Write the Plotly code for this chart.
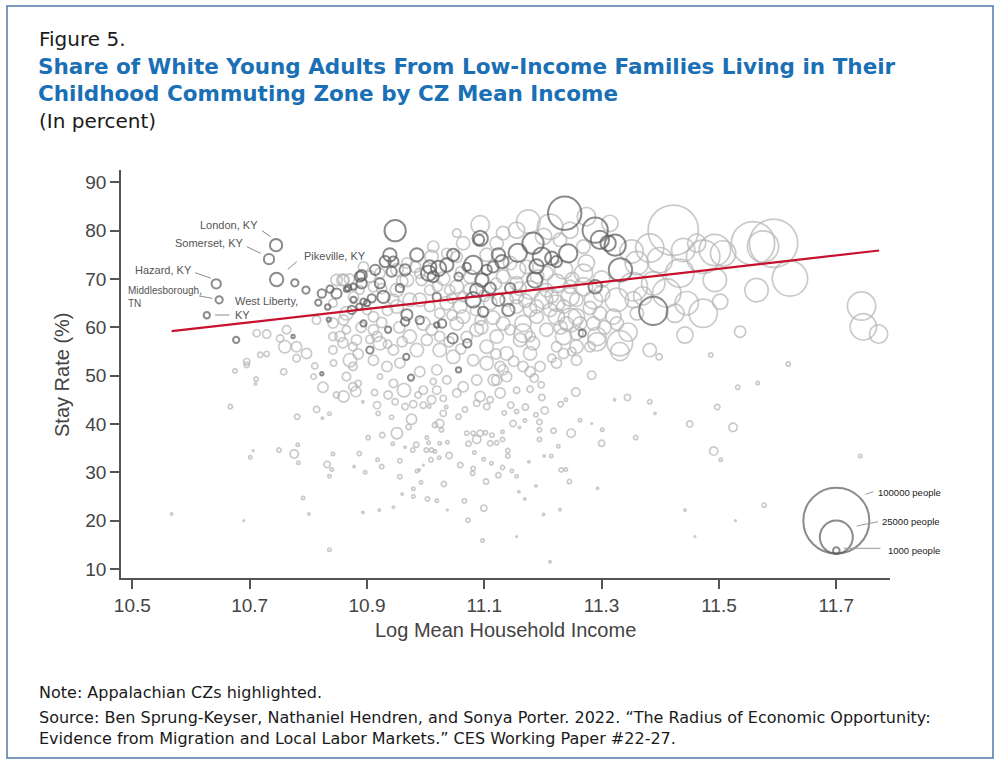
import plotly.graph_objects as go

# Appalachian commuting zones (highlighted): log mean income, stay rate (%), people
dark_x = [
    10.745, 10.733, 10.746, 10.643, 10.648, 10.627, 10.677, 10.777, 10.796, 10.823,
    10.817, 10.837, 10.848, 10.833, 10.835, 10.865, 10.877, 10.888, 10.877, 10.874,
    10.887, 10.774, 10.823, 10.948, 11.237, 11.289, 11.297, 11.311, 11.183, 11.157,
    11.198, 11.243, 11.215, 11.223, 11.189, 11.186, 11.093, 11.091, 11.124, 11.130,
    11.115, 11.104, 11.081, 11.096, 11.087, 11.110, 11.081, 11.124, 11.144, 11.141,
    11.098, 11.047, 11.070, 11.056, 11.036, 11.022, 11.007, 11.005, 11.013, 10.985,
    10.965, 10.939, 10.945, 10.931, 10.914, 10.942, 10.922, 10.891, 10.891, 10.868,
    10.928, 10.956, 10.908, 10.894, 11.019, 10.968, 10.990, 10.965, 11.019, 11.028,
    10.936, 10.894, 11.046, 11.071, 10.905, 10.967, 11.056, 10.975, 11.267, 11.289,
    11.323, 11.332, 11.388, 10.900]
dark_y = [
    77.0, 74.1, 69.9, 69.0, 65.7, 62.5, 57.4, 69.2, 67.7, 67.0,
    65.1, 67.9, 67.0, 64.2, 61.6, 67.9, 68.4, 70.5, 65.7, 63.6,
    64.3, 58.1, 50.4, 80.0, 83.6, 80.1, 78.1, 77.4, 77.4, 75.4,
    74.6, 75.3, 74.3, 73.6, 72.6, 69.8, 78.4, 78.1, 75.0, 73.6,
    72.5, 71.9, 72.9, 69.8, 67.7, 68.1, 65.7, 65.7, 68.1, 63.6,
    63.2, 75.0, 72.5, 70.5, 72.9, 72.2, 72.5, 71.2, 70.5, 75.0,
    71.9, 75.0, 73.6, 73.6, 71.9, 71.5, 69.1, 70.8, 69.1, 68.1,
    66.3, 68.1, 66.0, 65.3, 66.3, 62.6, 61.5, 61.2, 60.5, 60.8,
    59.5, 60.8, 57.7, 56.7, 55.3, 53.9, 51.2, 49.6, 58.8, 68.4,
    77.0, 71.9, 63.4, 65.0]
dark_pop = [
    3500, 2400, 4100, 2000, 1200, 900, 900, 1200, 1200, 1600,
    900, 1200, 2400, 650, 420, 650, 900, 2400, 900, 1600,
    900, 250, 250, 10400, 25500, 14700, 7700, 5400, 10400, 7700,
    7700, 7700, 4100, 2900, 4700, 5400, 5400, 2400, 4100, 4100,
    2900, 2400, 7700, 4100, 4100, 2900, 5400, 3500, 2400, 3500,
    2400, 3500, 1600, 1600, 4100, 5400, 4100, 5400, 2900, 4100,
    2900, 4100, 2400, 2900, 2400, 2400, 2400, 2400, 2400, 900,
    3500, 1600, 1600, 900, 1600, 2900, 1600, 1600, 650, 1600,
    900, 900, 2400, 1600, 1200, 900, 650, 900, 1200, 4100,
    10400, 12500, 18400, 900]

# all other commuting zones
gray_x = [
    10.712, 10.729, 10.763, 10.752, 10.760, 10.780, 10.797, 10.780, 10.718, 10.729,
    10.695, 10.695, 10.758, 10.675, 10.711, 10.811, 10.809, 10.843, 10.859, 10.842,
    10.814, 10.842, 10.865, 10.842, 10.859, 10.876, 10.842, 10.876, 10.865, 10.876,
    10.848, 10.877, 10.888, 10.911, 10.905, 10.922, 10.951, 10.973, 10.945, 11.007,
    11.024, 11.059, 11.064, 11.138, 11.155, 11.189, 11.212, 11.235, 11.257, 11.269,
    11.246, 11.206, 11.155, 11.206, 11.172, 11.144, 11.274, 11.269, 11.229, 11.201,
    11.121, 11.036, 10.968, 10.990, 11.076, 11.041, 11.064, 11.093, 11.144, 11.263,
    11.286, 11.240, 11.093, 11.175, 11.212, 11.132, 11.064, 11.013, 11.010, 11.053,
    11.274, 11.246, 11.155, 10.982, 10.968, 10.993, 11.030, 11.053, 11.155, 11.235,
    11.269, 11.223, 11.178, 11.155, 11.201, 11.246, 11.286, 11.297, 11.257, 11.223,
    11.189, 11.166, 11.132, 11.206, 11.235, 11.292, 11.178, 11.121, 11.087, 11.053,
    11.024, 10.973, 10.917, 10.854, 10.860, 10.894, 10.951, 10.990, 11.036, 10.951,
    10.865, 10.911, 10.996, 11.007, 11.053, 11.104, 11.076, 11.132, 11.110, 11.178,
    11.223, 11.235, 11.257, 11.178, 11.132, 11.178, 11.223, 11.257, 11.280,
    10.885, 10.945, 10.996, 11.010, 11.030, 11.053, 11.104, 11.116, 11.087, 11.036,
    11.013, 11.093, 11.113, 10.922, 11.019, 10.990, 10.956, 10.934, 10.911, 10.871,
    10.882, 10.922, 10.945, 10.985, 11.002, 11.024, 11.047, 11.081, 11.104, 11.104,
    10.911, 10.860,
    11.292, 11.425, 11.360, 11.326, 11.249, 11.215, 11.195, 11.223, 11.183, 11.161,
    11.138, 11.166, 11.127, 11.121, 11.138, 11.155, 11.283, 11.166, 11.246, 11.257,
    11.422, 11.314, 11.382, 11.360, 11.399, 11.433, 11.473, 11.493, 11.507, 11.558,
    11.593, 11.575, 11.621, 11.564, 11.493, 11.354, 11.388, 11.411, 11.445, 11.473,
    11.502, 11.326, 11.320, 11.354, 11.331, 11.331, 11.382, 11.398, 11.442, 11.743,
    11.746, 11.772, 11.536, 11.486, 11.618, 11.351, 11.439, 11.462,
    10.710, 10.667, 10.781, 10.814, 10.824, 10.836, 10.825, 10.848, 10.860, 10.881,
    10.893, 10.913, 10.917, 10.919, 10.936, 10.942, 10.951, 10.963, 10.948, 10.965,
    10.976, 10.971, 10.979, 10.996, 11.006, 10.987, 11.019, 11.030, 11.035, 11.024,
    11.016, 11.027, 11.056, 11.067, 11.064, 11.093, 11.110, 11.087, 11.127, 11.070,
    11.081, 11.087, 11.073, 11.102, 11.110, 11.121, 10.902, 10.926, 10.944, 10.965,
    10.984, 11.002, 11.005, 11.001, 11.010, 11.016, 11.024, 11.037, 11.040, 11.023,
    11.009, 10.996, 10.978, 10.985, 10.989, 10.992, 10.979, 10.979, 10.960, 10.956,
    10.956, 10.925, 10.918, 10.897, 10.887, 10.878, 10.842, 10.836, 10.840, 10.832,
    10.791, 10.801, 10.783, 10.776, 10.782, 10.750, 10.706, 10.701, 10.690, 10.567,
    10.836, 10.893, 10.921, 10.945, 11.003, 11.019, 11.031, 11.037, 11.066, 11.072,
    11.097, 11.099, 11.103, 11.081, 11.080, 11.059, 11.083, 11.099, 11.112, 11.124,
    11.197, 11.178, 11.256, 11.198, 11.203, 11.230, 11.239, 11.263, 11.283, 11.301,
    11.300, 11.248, 11.218, 11.194, 11.194, 11.194, 11.188, 11.149, 11.170, 11.155,
    11.145, 11.134, 11.169, 11.160, 11.131, 11.131, 11.140, 11.140, 11.176, 11.202,
    11.214, 11.226, 11.231, 11.239, 11.245, 11.293, 11.188, 11.159, 11.169, 11.147,
    11.155, 11.131, 11.201, 11.229, 11.155, 11.212, 11.322, 11.344, 11.382, 11.391,
    11.358, 11.450, 11.497, 11.532, 11.566, 11.524, 11.491, 11.503, 11.442, 11.459,
    11.528, 11.577, 11.741,
    10.890, 10.905, 10.925, 10.935, 10.955, 10.900, 10.885, 10.960, 11.010, 11.045,
    11.070, 11.095, 11.060, 11.040, 11.085, 11.115, 11.160, 11.190, 11.215, 11.250,
    11.280, 11.300, 11.170, 11.230, 11.020, 11.060, 11.100, 11.120, 11.045, 10.870,
    10.925, 10.960, 10.935, 11.305, 11.345, 11.370, 11.300, 11.150, 11.185, 11.120]
gray_y = [
    58.8, 58.6, 59.5, 57.7, 56.0, 56.0, 54.6, 53.6, 54.3, 54.5,
    52.9, 52.2, 50.8, 51.0, 49.3, 52.0, 49.8, 52.6, 69.8, 65.0,
    61.5, 60.9, 59.5, 58.1, 56.8, 56.0, 55.3, 51.9, 49.8, 47.7,
    69.8, 66.3, 67.7, 68.4, 70.5, 71.2, 71.9, 65.7, 65.7, 64.3,
    62.9, 64.3, 66.3, 65.7, 64.3, 64.3, 63.6, 64.3, 65.7, 68.4,
    68.4, 67.7, 69.1, 71.2, 72.5, 73.3, 73.3, 76.7, 78.1, 78.8,
    77.4, 75.3, 73.3, 71.2, 67.7, 67.7, 62.2, 61.5, 59.5, 60.8,
    60.8, 60.8, 81.2, 81.9, 80.8, 79.5, 77.4, 76.7, 74.6, 79.5,
    82.9, 80.1, 80.1, 72.5, 69.8, 69.8, 70.1, 68.4, 71.9, 71.9,
    71.2, 69.1, 67.7, 66.3, 65.7, 66.3, 65.7, 62.9, 62.2, 62.2,
    62.2, 60.8, 60.8, 59.5, 58.1, 58.1, 58.1, 58.1, 59.5, 60.8,
    58.1, 58.1, 58.1, 58.1, 69.8, 72.5, 67.7, 65.7, 65.0, 64.3,
    62.9, 62.2, 60.8, 67.7, 74.6, 75.0, 70.5, 70.5, 65.0, 63.6,
    65.0, 54.6, 56.0, 54.6, 51.2, 50.8, 52.6, 53.2, 56.0,
    48.4, 48.4, 47.0, 45.0, 42.2, 46.4, 43.6, 49.1, 49.1, 49.1,
    48.8, 38.1, 37.7, 49.8, 51.2, 50.8, 52.6, 51.9, 53.2, 53.2,
    57.4, 56.7, 55.3, 55.3, 57.4, 55.3, 53.9, 53.2, 52.6, 56.0,
    59.5, 61.5,
    57.0, 62.9, 62.9, 60.8, 55.0, 53.6, 51.9, 56.0, 56.7, 57.4,
    54.6, 51.9, 51.9, 49.1, 49.8, 47.0, 50.1, 58.8, 61.5, 58.8,
    80.1, 81.5, 76.4, 73.3, 73.9, 71.2, 74.6, 76.0, 75.3, 77.4,
    77.4, 76.7, 70.1, 67.7, 69.8, 68.4, 69.1, 67.1, 65.0, 62.9,
    65.3, 65.7, 62.2, 65.7, 56.7, 55.0, 55.3, 53.9, 58.4, 64.4,
    60.1, 58.6, 59.1, 54.3, 52.4, 75.7, 76.0, 77.4,
    48.3, 43.6, 41.5, 43.0, 41.2, 42.1, 47.6, 46.0, 45.7, 46.7,
    44.6, 46.5, 43.9, 42.2, 46.0, 41.4, 38.1, 47.0, 44.6, 43.6,
    41.0, 39.4, 44.1, 43.9, 43.6, 46.0, 47.0, 45.3, 43.5, 40.1,
    39.8, 38.8, 41.5, 43.0, 47.7, 45.7, 45.0, 44.3, 46.4, 38.1,
    38.1, 36.8, 35.9, 38.2, 36.0, 36.1, 37.2, 37.7, 35.9, 35.2,
    35.7, 37.2, 36.1, 34.6, 34.6, 34.3, 36.0, 36.2, 33.5, 33.0,
    32.6, 31.5, 34.6, 30.3, 30.5, 27.9, 26.6, 25.0, 25.5, 32.4,
    29.1, 31.2, 32.6, 30.0, 33.9, 31.2, 33.8, 29.2, 30.6, 31.6,
    24.7, 21.4, 32.0, 33.8, 35.7, 34.6, 34.5, 33.1, 20.0, 21.4,
    14.0, 21.7, 22.2, 22.8, 24.5, 24.1, 27.6, 22.2, 24.1, 20.1,
    15.9, 22.6, 28.1, 30.8, 29.8, 31.5, 34.1, 32.7, 31.9, 29.4,
    48.1, 47.2, 46.6, 45.5, 42.8, 44.1, 45.0, 40.8, 40.1, 38.8,
    36.0, 38.1, 38.6, 38.8, 36.8, 40.4, 41.9, 40.1, 43.5, 42.6,
    43.9, 42.3, 40.7, 39.3, 38.4, 36.8, 34.5, 33.4, 32.2, 33.4,
    33.4, 35.4, 30.5, 30.6, 28.1, 26.7, 27.2, 26.0, 24.5, 30.3,
    29.2, 31.0, 21.3, 22.3, 16.7, 11.5, 45.0, 45.5, 44.6, 42.2,
    37.2, 40.0, 43.5, 47.6, 48.5, 39.3, 34.4, 32.6, 22.2, 16.7,
    20.0, 23.2, 33.4,
    60.0, 57.5, 61.0, 56.5, 60.0, 63.5, 54.5, 57.0, 59.5, 62.5,
    58.0, 60.0, 55.5, 57.0, 63.5, 62.0, 68.0, 70.5, 66.5, 70.0,
    64.0, 67.0, 65.5, 60.0, 68.5, 71.5, 66.5, 69.0, 66.0, 70.0,
    68.0, 69.5, 63.5, 60.0, 59.0, 66.5, 70.0, 53.0, 49.5, 54.5]
gray_pop = [
    1200, 1600, 1600, 1200, 3500, 2400, 2400, 1200, 650, 650,
    900, 650, 900, 420, 420, 900, 650, 900, 3500, 1600,
    1600, 2400, 1600, 1600, 2400, 1600, 1600, 1600, 1600, 1600,
    2900, 2400, 1600, 2400, 2900, 2400, 3500, 4100, 2900, 2400,
    2400, 4100, 2400, 4100, 4100, 4100, 4100, 4100, 4100, 7700,
    4100, 4100, 4100, 4100, 4100, 4100, 6100, 4100, 4100, 6100,
    4100, 2400, 2400, 2400, 4100, 2400, 4100, 2400, 2400, 4100,
    4100, 4100, 7700, 12500, 14700, 4100, 4100, 2900, 4100, 1600,
    7700, 6100, 6100, 2900, 4100, 2900, 4100, 4100, 7700, 7700,
    7700, 7700, 7700, 4100, 7700, 7700, 7700, 4100, 6100, 6100,
    4100, 6100, 4100, 4100, 6100, 7700, 2400, 4100, 4100, 4100,
    2400, 4100, 2400, 2400, 2400, 2400, 4100, 4100, 4100, 4100,
    4100, 2400, 4100, 2400, 2900, 4100, 4100, 4100, 4100, 4100,
    6100, 2400, 4100, 4100, 2400, 2400, 2400, 2400, 2400,
    900, 1600, 1600, 1600, 900, 1600, 900, 2900, 2400, 1600,
    900, 900, 420, 650, 2400, 2400, 2400, 2400, 2400, 4100,
    2400, 4100, 2400, 4100, 2900, 4100, 4100, 2900, 4100, 4100,
    2400, 2400,
    7700, 7700, 4100, 4100, 1600, 1600, 2400, 2400, 4100, 4100,
    4100, 2400, 2400, 2400, 2400, 900, 1600, 7700, 12500, 4100,
    58100, 6100, 18400, 12500, 14700, 18400, 25500, 22500, 14700, 43000,
    53600, 22500, 28600, 12500, 12500, 18400, 12500, 18400, 12500, 18400,
    5400, 12500, 5400, 6100, 14700, 7700, 4100, 900, 6100, 18400,
    15900, 7700, 2900, 420, 420, 12500, 12500, 7700,
    120, 420, 650, 900, 120, 250, 2400, 900, 2900, 2400,
    120, 900, 1200, 420, 1600, 420, 2900, 4100, 900, 900,
    2400, 650, 1200, 900, 250, 900, 1600, 900, 250, 1600,
    650, 420, 650, 650, 2400, 2400, 900, 900, 2400, 420,
    420, 1600, 650, 420, 650, 420, 420, 650, 250, 120,
    650, 250, 250, 420, 420, 250, 250, 250, 900, 250,
    420, 50, 420, 250, 120, 250, 250, 250, 120, 420,
    420, 420, 250, 250, 420, 120, 250, 250, 250, 900,
    250, 120, 250, 1600, 250, 420, 50, 250, 50, 120,
    250, 120, 120, 120, 420, 250, 650, 50, 420, 420,
    250, 900, 650, 420, 420, 650, 250, 250, 250, 650,
    900, 900, 1600, 900, 1200, 650, 250, 250, 50, 250,
    900, 1600, 650, 420, 420, 650, 420, 900, 900, 420,
    900, 420, 250, 120, 250, 420, 420, 420, 120, 120,
    250, 250, 420, 250, 420, 120, 120, 120, 120, 250,
    250, 420, 120, 120, 50, 120, 120, 900, 420, 120,
    420, 900, 650, 420, 250, 1600, 1600, 250, 120, 50,
    50, 420, 250,
    2400, 1600, 2400, 1600, 2900, 1600, 2400, 2400, 2900, 2400,
    2900, 4100, 2400, 2400, 2400, 4100, 4100, 4100, 4100, 4100,
    4100, 6100, 4100, 4100, 2400, 2400, 2900, 2900, 2400, 2400,
    2400, 2900, 2400, 4100, 7700, 7700, 6100, 2400, 1600, 2400]

# fitted line
fit_x = [10.567, 11.773]
fit_y = [59.2, 75.9]

# size key
key_pop = [100000, 25000, 1000]
key_x = [11.70, 11.70, 11.70]
key_y = [20.0, 16.6, 13.8]
key_labels = ["100000 people", "25000 people", "1000 people"]

assert len(gray_x) == len(gray_y) == len(gray_pop)
assert len(dark_x) == len(dark_y) == len(dark_pop)

GRAY = "#b3b3b3"
DARK = "#5a5a5a"
RED = "#c8102e"
BLUE = "#1a6fb5"
SIZEREF = 2 * 100000 / (66 ** 2)

# plot area in pixels, used to place the text around it
L, R, T, B = 121, 890, 170, 578


def px(x):
    return (x - L) / (R - L)


def py(y):
    return (B - y) / (B - T)


def bubbles(x, y, pop, color, width):
    return go.Scatter(
        x=x, y=y, mode="markers", hoverinfo="skip", showlegend=False,
        marker=dict(symbol="circle-open", size=pop, sizemode="area", sizeref=SIZEREF,
                    color=color, line=dict(width=width, color=color)))


fig = go.Figure()
fig.add_trace(bubbles(gray_x, gray_y, gray_pop, GRAY, 1.7))
fig.add_trace(bubbles(dark_x, dark_y, dark_pop, DARK, 2.0))
fig.add_trace(bubbles(key_x, key_y, key_pop, DARK, 2.0))
fig.add_trace(go.Scatter(x=fit_x, y=fit_y, mode="lines", hoverinfo="skip", showlegend=False,
                         line=dict(color=RED, width=2.2)))

AX = "Liberation Sans, Arial"
ann = []
# city labels
city = [
    ("London, KY", 10.7168, 81.2, "right", 11, (10.7209, 80.0, 10.7357, 78.75)),
    ("Somerset, KY", 10.6933, 77.5, "right", 11, (10.695, 76.7, 10.7188, 75.3)),
    ("Pikeville, KY", 10.7898, 74.8, "left", 11, (10.7802, 73.6, 10.7649, 72.0)),
    ("Hazard, KY", 10.6057, 71.9, "right", 11, (10.6069, 71.3, 10.6341, 70.15)),
    ("Middlesborough,<br>TN", 10.4888, 66.2, "left", 10, (10.6137, 66.5, 10.6364, 66.0)),
    ("West Liberty,<br>KY", 10.6721, 63.9, "left", 11, (10.641, 62.55, 10.6653, 62.55)),
]
shapes = []
for text, x, y, anchor, size, seg in city:
    ann.append(dict(text=text, x=x, y=y, xref="x", yref="y", xanchor=anchor, yanchor="middle",
                    align="left", showarrow=False, font=dict(family=AX, size=size, color="#555555")))
    shapes.append(dict(type="line", xref="x", yref="y", x0=seg[0], y0=seg[1], x1=seg[2], y1=seg[3],
                       line=dict(color="#8c8c8c", width=1)))

# size key labels
key_text_pos = [(11.767, 25.9), (11.774, 19.9), (11.784, 13.9)]
key_seg = [(11.750, 25.46, 11.763, 26.0), (11.7347, 18.9, 11.771, 19.79), (11.7128, 14.28, 11.7753, 14.28)]
for lab, (x, y), seg in zip(key_labels, key_text_pos, key_seg):
    ann.append(dict(text=lab, x=x, y=y, xref="x", yref="y", xanchor="left", yanchor="middle",
                    showarrow=False, font=dict(family=AX, size=9.5, color="#222222")))
    shapes.append(dict(type="line", xref="x", yref="y", x0=seg[0], y0=seg[1], x1=seg[2], y1=seg[3],
                       line=dict(color="#9a9a9a", width=1)))

TXT = "DejaVu Sans"
head = [
    dict(text="Figure 5.", x=px(37), y=py(39), font=dict(family=TXT, size=20, color="#1a1a1a")),
    dict(text="<b>Share of White Young Adults From Low-Income Families Living in Their</b>",
         x=px(36), y=py(66), font=dict(family=TXT, size=21.5, color=BLUE)),
    dict(text="<b>Childhood Commuting Zone by CZ Mean Income</b>",
         x=px(36), y=py(93), font=dict(family=TXT, size=21.5, color=BLUE)),
    dict(text="(In percent)", x=px(37), y=py(121), font=dict(family=TXT, size=20, color="#1a1a1a")),
    dict(text="Note: Appalachian CZs highlighted.", x=px(37), y=py(692),
         font=dict(family=TXT, size=16, color="#1a1a1a")),
    dict(text="Source: Ben Sprung-Keyser, Nathaniel Hendren, and Sonya Porter. 2022. "
              "\u201cThe Radius of Economic Opportunity:",
         x=px(37), y=py(717), font=dict(family=TXT, size=16, color="#1a1a1a")),
    dict(text="Evidence from Migration and Local Labor Markets.\u201d CES Working Paper #22-27.",
         x=px(37), y=py(738), font=dict(family=TXT, size=16, color="#1a1a1a")),
]
for a in head:
    a.update(xref="paper", yref="paper", xanchor="left", yanchor="middle", showarrow=False)
ann += head

# axis titles
ann += [
    dict(text="Log Mean Household Income", x=px(505), y=py(630), xref="paper", yref="paper",
         xanchor="center", yanchor="middle", showarrow=False,
         font=dict(family=AX, size=20, color="#444444")),
    dict(text="Stay Rate (%)", x=px(62), y=py(375), xref="paper", yref="paper", textangle=-90,
         xanchor="center", yanchor="middle", showarrow=False,
         font=dict(family=AX, size=20, color="#444444")),
]

# frame round the whole figure
shapes.append(dict(type="rect", xref="paper", yref="paper", x0=px(7), x1=px(993), y0=py(758), y1=py(6),
                   line=dict(color="#4f7aa8", width=1.5), fillcolor="rgba(0,0,0,0)", layer="below"))

axis_style = dict(showline=True, linecolor="#555555", linewidth=1.5, ticks="outside", ticklen=9,
                  tickwidth=1.5, tickcolor="#555555", showgrid=False, zeroline=False,
                  tickfont=dict(family=AX, size=19, color="#444444"))

fig.update_layout(
    width=1000, height=764,
    margin=dict(l=L, r=1000 - R, t=T, b=764 - B),
    paper_bgcolor="white", plot_bgcolor="white",
    showlegend=False,
    xaxis=dict(range=[10.4807, 11.7915], tickvals=[10.5, 10.7, 10.9, 11.1, 11.3, 11.5, 11.7],
               ticktext=["10.5", "10.7", "10.9", "11.1", "11.3", "11.5", "11.7"], **axis_style),
    yaxis=dict(range=[8.14, 92.55], tickvals=[10, 20, 30, 40, 50, 60, 70, 80, 90], **axis_style),
    annotations=ann,
    shapes=shapes,
)

fig.write_html("out.html", config={"displayModeBar": False},
               post_script="document.body.style.margin='0px';")
